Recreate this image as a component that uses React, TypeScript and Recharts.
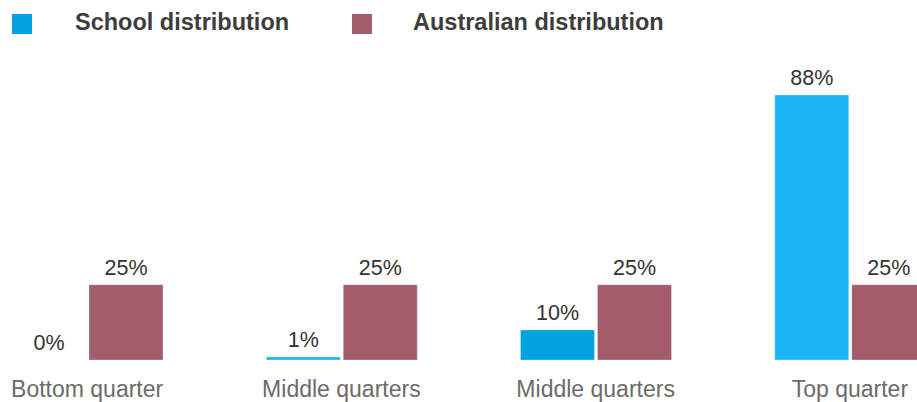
import React from "react";
import { BarChart, Bar, XAxis, YAxis, Legend, LabelList, Cell } from "recharts";

// values
const categories = ["Bottom quarter", "Middle quarters", "Middle quarters", "Top quarter"];
const schoolValues = [0, 1, 10, 88];
const australianValues = [25, 25, 25, 25];
const schoolColors = ["#00A3E0", "#1CB5F3", "#00A3E0", "#1AB6F5"];

const data = categories.map((name, i) => ({
  name,
  school: schoolValues[i],
  australian: australianValues[i],
}));

const FONT = "'Liberation Sans', Arial, sans-serif";

const LegendContent = () => (
  <div style={{ position: "relative", width: 917, height: 50, fontFamily: FONT }}>
    <span style={{ position: "absolute", left: 12, top: 14, width: 20, height: 20, background: "#00A3E0" }} />
    <span
      style={{ position: "absolute", left: 75, top: 10.5, fontSize: 23.5, lineHeight: "23px", fontWeight: 700, color: "#3d3d3d" }}
    >
      School distribution
    </span>
    <span style={{ position: "absolute", left: 352, top: 14, width: 20, height: 20, background: "#A25C6C" }} />
    <span
      style={{ position: "absolute", left: 413, top: 10.5, fontSize: 23.5, lineHeight: "23px", fontWeight: 700, color: "#3d3d3d" }}
    >
      Australian distribution
    </span>
  </div>
);

const pct = (v: any) => `${v}%`;

export default function App() {
  return (
    <div
      style={{
        position: "fixed",
        left: 0,
        top: 0,
        width: 917,
        height: 402,
        overflow: "hidden",
        fontFamily: FONT,
        background: "#fff",
      }}
    >
      <div style={{ position: "absolute", left: -40, top: 0 }}>
        <BarChart
          width={1017}
          height={402}
          data={data}
          margin={{ top: 59, right: 0, left: 0, bottom: 12 }}
          barSize={74}
          barGap={3}
        >
          <XAxis
            dataKey="name"
            axisLine={false}
            tickLine={false}
            tickSize={0}
            tickMargin={21}
            height={30}
            interval={0}
            tick={{ fill: "#6b6b6b", fontSize: 23 }}
          />
          <YAxis hide domain={[0, 100]} />
          <Legend
            layout="horizontal"
            verticalAlign="middle"
            align="center"
            wrapperStyle={{ top: 0, left: 40, width: 917, height: 50 }}
            content={() => <LegendContent />}
          />
          <Bar
            dataKey="school"
            isAnimationActive={false}
            minPointSize={0.001}
            stroke="rgba(255,255,255,0.3)"
            strokeWidth={1}
          >
            {data.map((_, i) => (
              <Cell key={i} fill={schoolColors[i]} />
            ))}
            <LabelList dataKey="school" position="top" offset={10} formatter={pct} fill="#333" fontSize={21.5} />
          </Bar>
          <Bar dataKey="australian" fill="#A25C6C" isAnimationActive={false} stroke="rgba(255,255,255,0.3)" strokeWidth={1}>
            <LabelList dataKey="australian" position="top" offset={10} formatter={pct} fill="#333" fontSize={21.5} />
          </Bar>
        </BarChart>
      </div>
    </div>
  );
}
